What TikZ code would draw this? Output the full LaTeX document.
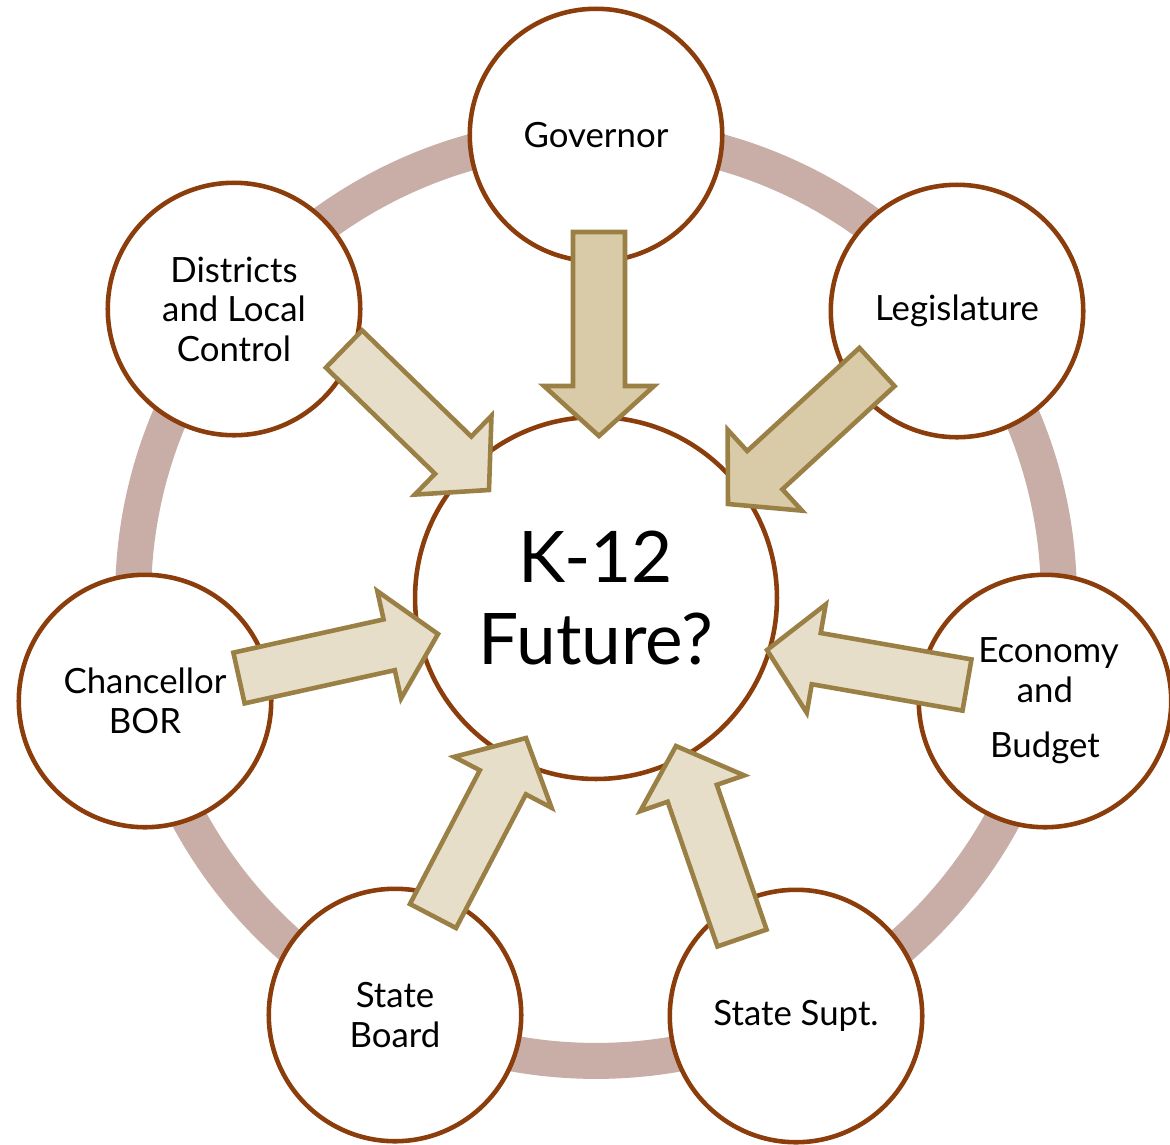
\documentclass[tikz,border=0pt]{standalone}
\usepackage{fontspec}
\setmainfont{Lato}
\usepackage{tikz}
\usetikzlibrary{calc}
\definecolor{circbrown}{RGB}{139,62,12}
\definecolor{ringpink}{RGB}{201,174,168}
\definecolor{arrowedge}{RGB}{154,128,68}
\definecolor{arrowdark}{RGB}{218,203,168}
\definecolor{arrowlight}{RGB}{230,222,200}
\tikzset{
  actor/.style={circle, draw=circbrown, line width=2.6pt, fill=white, minimum size=5.05cm,
    inner sep=0pt, align=center, font=\fontsize{19.8}{22.5}\selectfont},
  future/.style={actor, minimum size=7.24cm, font=\fontsize{40.5}{46.5}\selectfont},
  push/.style={draw=arrowedge, line width=2.6pt, line join=miter}
}

\begin{document}
\begin{tikzpicture}[x=0.02cm, y=-0.02cm]
\useasboundingbox (0,0) rectangle (1170,1144);
% ring behind the circles
\draw[ringpink, line width=0.72cm] (596,598) circle (9.26cm);
\node[future] (k12) at (596,598) {K-12\\Future?};
\node[actor] (gov) at (596,135) {Governor};
\node[actor] (leg) at (957,311) {Legislature};
\node[actor] (eco) at (1045,701) {\hspace*{4pt}Economy\\and\\[9pt]Budget};
\node[actor] (supt) at (796,1016) {State Supt.};
\node[actor] (board) at (395,1015) {State\\Board};
\node[actor] (chanc) at (145,701) {Chancellor\\BOR};
\node[actor] (dist) at (234,309) {Districts\\and Local\\Control};
% arrow ends
\coordinate (govtail) at (599,232);
\coordinate (govtip) at (599,436);
\coordinate (legtail) at (877,367);
\coordinate (legtip) at (728,504);
\coordinate (ecotail) at (967,685);
\coordinate (ecotip) at (767,650);
\coordinate (supttail) at (742,938);
\coordinate (supttip) at (676,746);
\coordinate (boardtail) at (433,916);
\coordinate (boardtip) at (526,738);
\coordinate (chanctail) at (239,678);
\coordinate (chanctip) at (438,634);
\coordinate (disttail) at (344,349);
\coordinate (disttip) at (489,490);
\foreach \src/\dst/\fc in {govtail/govtip/arrowdark, legtail/legtip/arrowdark,
    ecotail/ecotip/arrowlight, supttail/supttip/arrowlight, boardtail/boardtip/arrowlight,
    chanctail/chanctip/arrowlight, disttail/disttip/arrowlight}{
  \coordinate (hb) at ($(\dst)!1cm!(\src)$);
  \filldraw[push, fill=\fc] ($(\src)!0.52cm!90:(\dst)$) -- ($(hb)!0.52cm!-90:(\src)$)
    -- ($(hb)!1.1cm!-90:(\src)$) -- (\dst) -- ($(hb)!1.1cm!90:(\src)$)
    -- ($(hb)!0.52cm!90:(\src)$) -- ($(\src)!0.52cm!-90:(\dst)$) -- cycle;
}
\end{tikzpicture}
\end{document}
